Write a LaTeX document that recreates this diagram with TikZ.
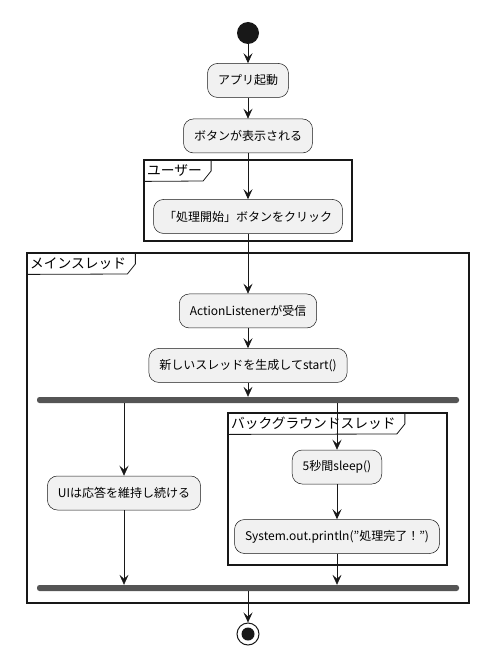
\documentclass[tikz,border=0pt]{standalone}
\usepackage{fontspec}
\setmainfont{Noto Sans CJK JP}
\usetikzlibrary{positioning,arrows.meta}

\definecolor{actfill}{HTML}{F1F1F1}
\definecolor{ink}{HTML}{181818}
\definecolor{barfill}{HTML}{555555}

\begin{document}
\begin{tikzpicture}
    [x=1pt,y=-1pt,>={Stealth[length=10pt,width=9pt,inset=4pt]},
     every edge/.style={draw,ink,line width=0.6pt},
     act/.style={rectangle,rounded corners=10pt,draw=ink,fill=actfill,line width=0.5pt,
       minimum height=34pt,inner xsep=10.5pt,font=\fontsize{12}{14}\selectfont},
     bar/.style={rectangle,rounded corners=2.5pt,fill=barfill,minimum width=422pt,minimum height=6pt,inner sep=0pt},
     grp/.style={draw=ink,line width=1.2pt},
     tab/.style={anchor=north west,inner xsep=3pt,inner ysep=0pt,minimum height=21pt,font=\fontsize{13.75}{15}\selectfont}]
    \useasboundingbox (0,0) rectangle (502,658);

    % partitions
    \draw[grp] (144,160) rectangle (352,241);
    \node[tab] (usertab) at (144,160) {ユーザー};
    \draw[grp,line width=0.8pt] ([xshift=6pt]usertab.north east) -- ++(0,11) -- ++(-8,10) -- (usertab.south west);

    \draw[grp] (27,253) rectangle (469,603);
    \node[tab] (maintab) at (27,253) {メインスレッド};
    \draw[grp,line width=0.8pt] ([xshift=6pt]maintab.north east) -- ++(0,11) -- ++(-8,10) -- (maintab.south west);

    \draw[grp] (228,413) rectangle (447,565);
    \node[tab] (bgtab) at (228,413) {バックグラウンドスレッド};
    \draw[grp,line width=0.8pt] ([xshift=6pt]bgtab.north east) -- ++(0,11) -- ++(-8,10) -- (bgtab.south west);

    % main flow
    \node[circle,fill=ink,minimum size=22pt,inner sep=0pt] (start) at (248,33) {};
    \node[act] (launch) [below=19pt of start] {アプリ起動}
      edge [<-] (start);
    \node[act] (shown) [below=21pt of launch] {ボタンが表示される}
      edge [<-] (launch);
    \node[act] (click) [below=46pt of shown] {「処理開始」ボタンをクリック}
      edge [<-] (shown);
    \node[act] (recv) [below=60pt of click] {ActionListenerが受信}
      edge [<-] (click);
    \node[act] (spawn) [below=20pt of recv] {新しいスレッドを生成してstart()}
      edge [<-] (recv);

    \node[bar] (fork) at (248,400) {};
    \draw[ink,line width=0.6pt,->] (spawn) -- (fork);

    % branches
    \node[act] (keepui) at (124,493) {UIは応答を維持し続ける};
    \node[act] (sleep) at (337,467) {5秒間sleep()};
    \node[act] (println) [below=35pt of sleep] {System.out.println("処理完了！")}
      edge [<-] (sleep);

    \node[bar] (join) at (248,588) {};
    \draw[ink,line width=0.6pt,->] (fork.south -| keepui.north) -- (keepui);
    \draw[ink,line width=0.6pt,->] (fork.south -| sleep.north) -- (sleep);
    \draw[ink,line width=0.6pt,->] (keepui) -- (keepui.south |- join.north);
    \draw[ink,line width=0.6pt,->] (println) -- (println.south |- join.north);

    \node[circle,draw=ink,line width=1pt,fill=white,minimum size=22pt,inner sep=0pt] (stop) at (248,634) {};
    \fill[ink] (stop) circle (6.5pt);
    \draw[ink,line width=0.6pt,->] (join) -- (stop);
\end{tikzpicture}
\end{document}
